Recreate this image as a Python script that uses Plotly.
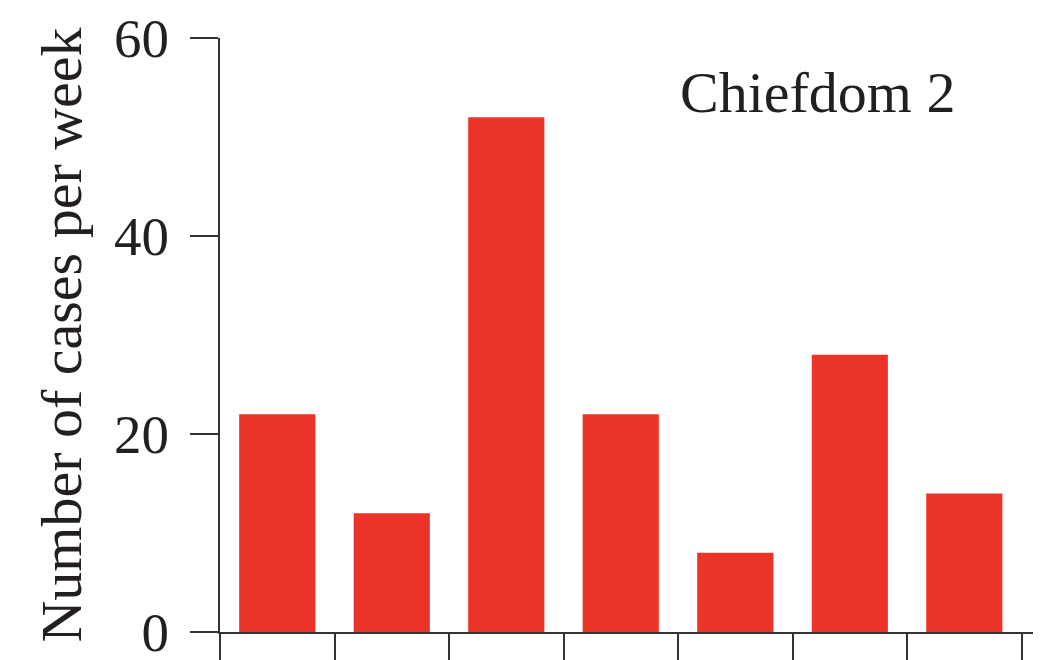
import plotly.graph_objects as go

weeks = ["Week 1", "Week 2", "Week 3", "Week 4", "Week 5", "Week 6", "Week 7"]
cases = [22, 12, 52, 22, 8, 28, 14]
y_ticks = [0, 20, 40, 60]
panel_label = "Chiefdom 2"
y_title = "Number of cases per week"

FONT = "Liberation Serif, Times New Roman, serif"
TEXT = "#231f20"
AXIS = "#333333"

fig = go.Figure(
    go.Bar(
        x=weeks,
        y=cases,
        marker=dict(color="#ec3327", line=dict(width=0)),
        hoverinfo="x+y",
    )
)

# the page body adds an 8px offset, compensated in the margins
fig.update_layout(
    width=1054,
    height=660,
    margin=dict(l=212, r=29, t=30, b=36, autoexpand=False),
    paper_bgcolor="white",
    plot_bgcolor="white",
    bargap=0.335,
    showlegend=False,
    font=dict(family=FONT, color=TEXT, size=55),
    annotations=[
        dict(
            text=panel_label,
            xref="paper", yref="paper",
            x=0.7355, y=0.909,
            xanchor="center", yanchor="middle",
            showarrow=False,
            font=dict(family=FONT, size=58, color=TEXT),
        )
    ],
)

fig.update_xaxes(
    type="category",
    range=[-0.5, 6.6],
    automargin=False,
    showline=True, linecolor=AXIS, linewidth=2,
    ticks="outside", tickson="boundaries", ticklen=28, tickwidth=2, tickcolor=AXIS,
    showticklabels=False,
    showgrid=False, zeroline=False,
)

fig.update_yaxes(
    range=[0, 60],
    tickvals=y_ticks,
    automargin=False,
    showline=True, linecolor=AXIS, linewidth=2,
    ticks="outside", ticklen=28, tickwidth=2, tickcolor=AXIS,
    ticklabelstandoff=10,
    tickfont=dict(family=FONT, size=55, color=TEXT),
    showgrid=False, zeroline=False,
    title=dict(text=y_title, font=dict(family=FONT, size=58, color=TEXT), standoff=14),
)

fig.write_html("out.html")
